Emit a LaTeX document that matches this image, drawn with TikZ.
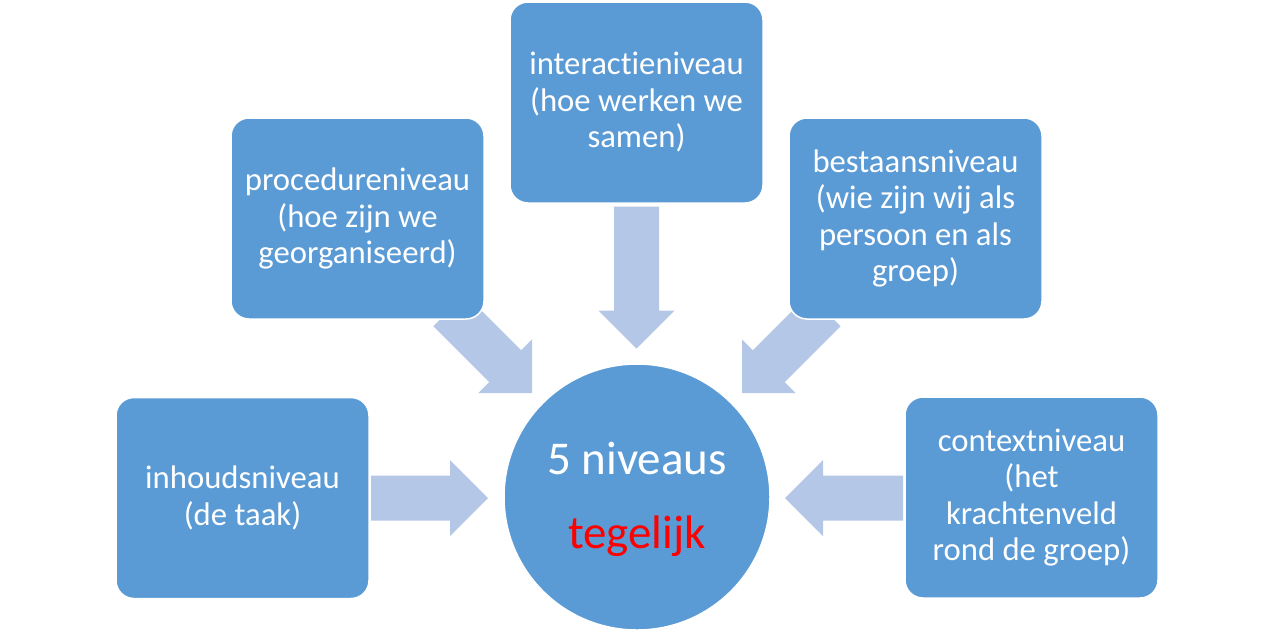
\documentclass[tikz,border=0pt]{standalone}
\usepackage{fontspec}
\setmainfont{Carlito}[Ligatures={NoCommon}]
\usetikzlibrary{calc}
\pgfdeclarelayer{bg}
\pgfsetlayers{bg,main}
\definecolor{boxblue}{HTML}{5B9BD5}
\definecolor{arrowblue}{HTML}{B4C7E7}
\definecolor{txtred}{HTML}{FF0000}
\begin{document}
\begin{tikzpicture}[x=1pt,y=-1pt,
  levelbox/.style={rectangle, rounded corners=18pt, fill=boxblue, draw=white,
    line width=1.5pt, minimum width=253pt, minimum height=201pt, inner sep=4pt,
    outer sep=0pt, text=white, align=center,
    font=\fontsize{32.7}{36.5}\selectfont},
  hub/.style={circle, fill=boxblue, draw=white, line width=1.5pt,
    minimum size=266pt, inner sep=0pt, outer sep=0pt},
  hubtext/.style={anchor=base, font=\fontsize{47}{56}\selectfont, inner sep=0pt},
  pics/blockarrow/.style={code={\fill[arrowblue] (0,0) -- (-38,-38) -- (-38,-22.5)
    -- (-#1,-22.5) -- (-#1,22.5) -- (-38,22.5) -- (-38,38) -- cycle;}}
]
\useasboundingbox (0,0) rectangle (1274,633);

\node[hub] (hub) at (637,497) {};
\node[hubtext, text=white] (hubA) at (637,474) {5 niveaus};
\node[hubtext, text=txtred] (hubB) at (637,548) {tegelijk};

\node[levelbox] (inh) at (242.5,498) {inhoudsniveau\\(de taak)};
\node[levelbox] (proc) at (357.5,218.5) {procedureniveau\\(hoe zijn we\\georganiseerd)};
\node[levelbox] (inter) at (636.5,102.5) {interactieniveau\\(hoe werken we\\samen)};
\node[levelbox] (best) at (915.5,218.5) {bestaansniveau\\(wie zijn wij als\\persoon en als\\groep)};
\node[levelbox] (ctx) at (1031.5,497.5) {contextniveau\\(het\\krachtenveld\\rond de groep)};

\begin{pgfonlayer}{bg}
  \pic[rotate=0] at ($(hub.center)+(-149,1)$) {blockarrow=117};
  \pic[rotate=-45] at ($(hub.center)+(-105,-104)$) {blockarrow=117};
  \pic[rotate=-90] at ($(inter.south)+(0,145.5)$) {blockarrow=142};
  \pic[rotate=-135] at ($(hub.center)+(105,-104)$) {blockarrow=117};
  \pic[rotate=180] at ($(hub.center)+(148,1)$) {blockarrow=118};
\end{pgfonlayer}
\end{tikzpicture}
\end{document}
